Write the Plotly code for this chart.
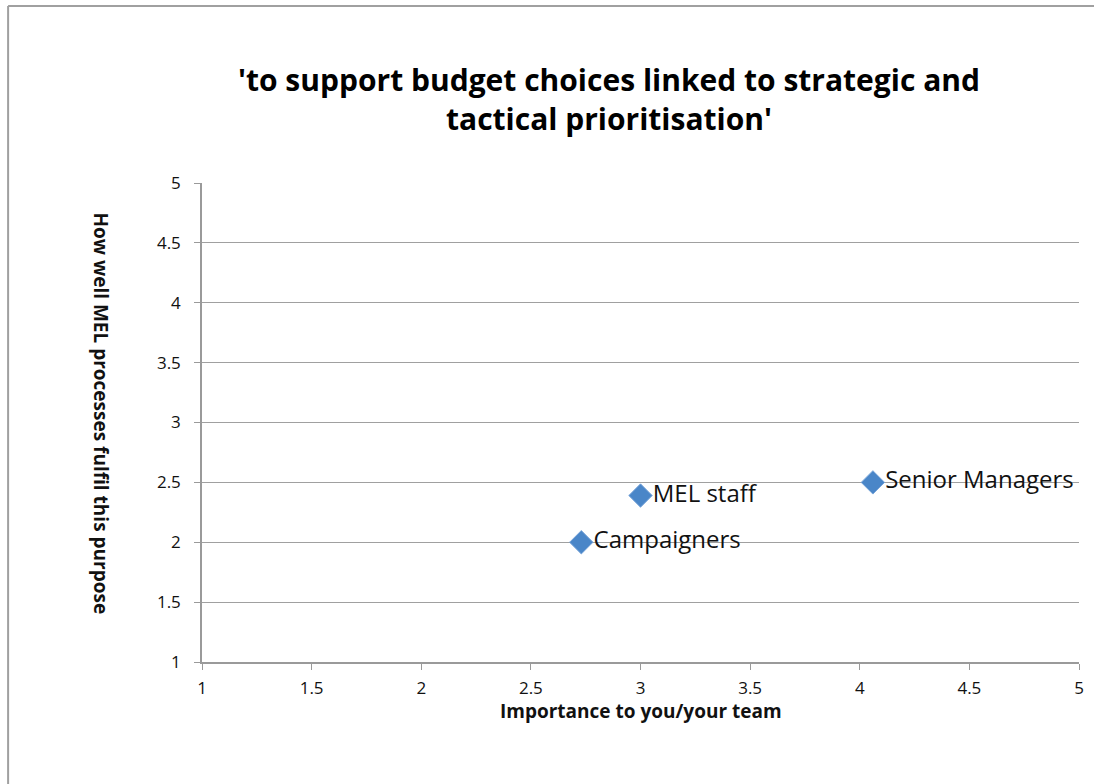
import plotly.graph_objects as go

groups = ["Campaigners", "MEL staff", "Senior Managers"]
importance = [2.73, 3.0, 4.06]
fulfilment = [2.0, 2.39, 2.5]

x_ticks = [1, 1.5, 2, 2.5, 3, 3.5, 4, 4.5, 5]
y_ticks = [1, 1.5, 2, 2.5, 3, 3.5, 4, 4.5, 5]

FONT = "Open Sans"
L, R, T, B = 202, 10, 183, 122
W, H = 1094, 784
pw = W - L - R
ph = H - T - B

fig = go.Figure()
fig.add_trace(go.Scatter(
    x=importance, y=fulfilment, mode="markers+text",
    text=groups, textposition="middle right",
    textfont=dict(family=FONT, size=24, color="#111111"),
    marker=dict(symbol="diamond", size=18, color="#4a86c8",
                line=dict(color="#7aa6da", width=1)),
    cliponaxis=False, hoverinfo="skip",
))

def px_x(p):
    return (p - L) / pw

def px_y(p):
    return (H - B - p) / ph

fig.update_layout(
    width=W, height=H,
    margin=dict(l=L, r=R, t=T, b=B),
    paper_bgcolor="white", plot_bgcolor="white",
    showlegend=False,
    font=dict(family=FONT, size=17, color="#111111"),
    xaxis=dict(
        range=[1, 5], tickvals=x_ticks, ticktext=[str(v) for v in x_ticks],
        showgrid=False, zeroline=False,
        showline=True, linecolor="#9a9a9a", linewidth=1.5,
        ticks="outside", ticklen=6, tickcolor="#9a9a9a",
        ticklabelstandoff=4,
        tickfont=dict(family=FONT, size=17, color="#111111"),
    ),
    yaxis=dict(
        range=[1, 5], tickvals=y_ticks, ticktext=[str(v) for v in y_ticks],
        showgrid=True, gridcolor="#a0a0a0", gridwidth=1, zeroline=False,
        showline=True, linecolor="#9a9a9a", linewidth=1.5,
        ticks="outside", ticklen=6, tickcolor="#9a9a9a",
        ticklabelstandoff=10,
        tickfont=dict(family=FONT, size=17, color="#111111"),
    ),
    annotations=[
        dict(text="<b>'to support budget choices linked to strategic and<br>tactical prioritisation'</b>",
             x=px_x(611), y=px_y(99), xref="paper", yref="paper",
             showarrow=False, xanchor="center", yanchor="middle",
             font=dict(family=FONT, size=30, color="#000000")),
        dict(text="<b>Importance to you/your team</b>",
             x=px_x(643), y=px_y(711), xref="paper", yref="paper",
             showarrow=False, xanchor="center", yanchor="middle",
             font=dict(family=FONT, size=19, color="#111111")),
        dict(text="<b>How well MEL processes fulfil this purpose</b>",
             x=px_x(100), y=px_y(413), xref="paper", yref="paper",
             showarrow=False, xanchor="center", yanchor="middle", textangle=90,
             font=dict(family=FONT, size=19, color="#111111")),
    ],
    shapes=[
        dict(type="line", xref="paper", yref="paper",
             x0=px_x(7), x1=px_x(7), y0=px_y(790), y1=px_y(6),
             line=dict(color="#a0a0a0", width=2), layer="below"),
        dict(type="line", xref="paper", yref="paper",
             x0=px_x(7), x1=px_x(1100), y0=px_y(6), y1=px_y(6),
             line=dict(color="#a0a0a0", width=2), layer="below"),
    ],
)

fig.write_html("out.html")
